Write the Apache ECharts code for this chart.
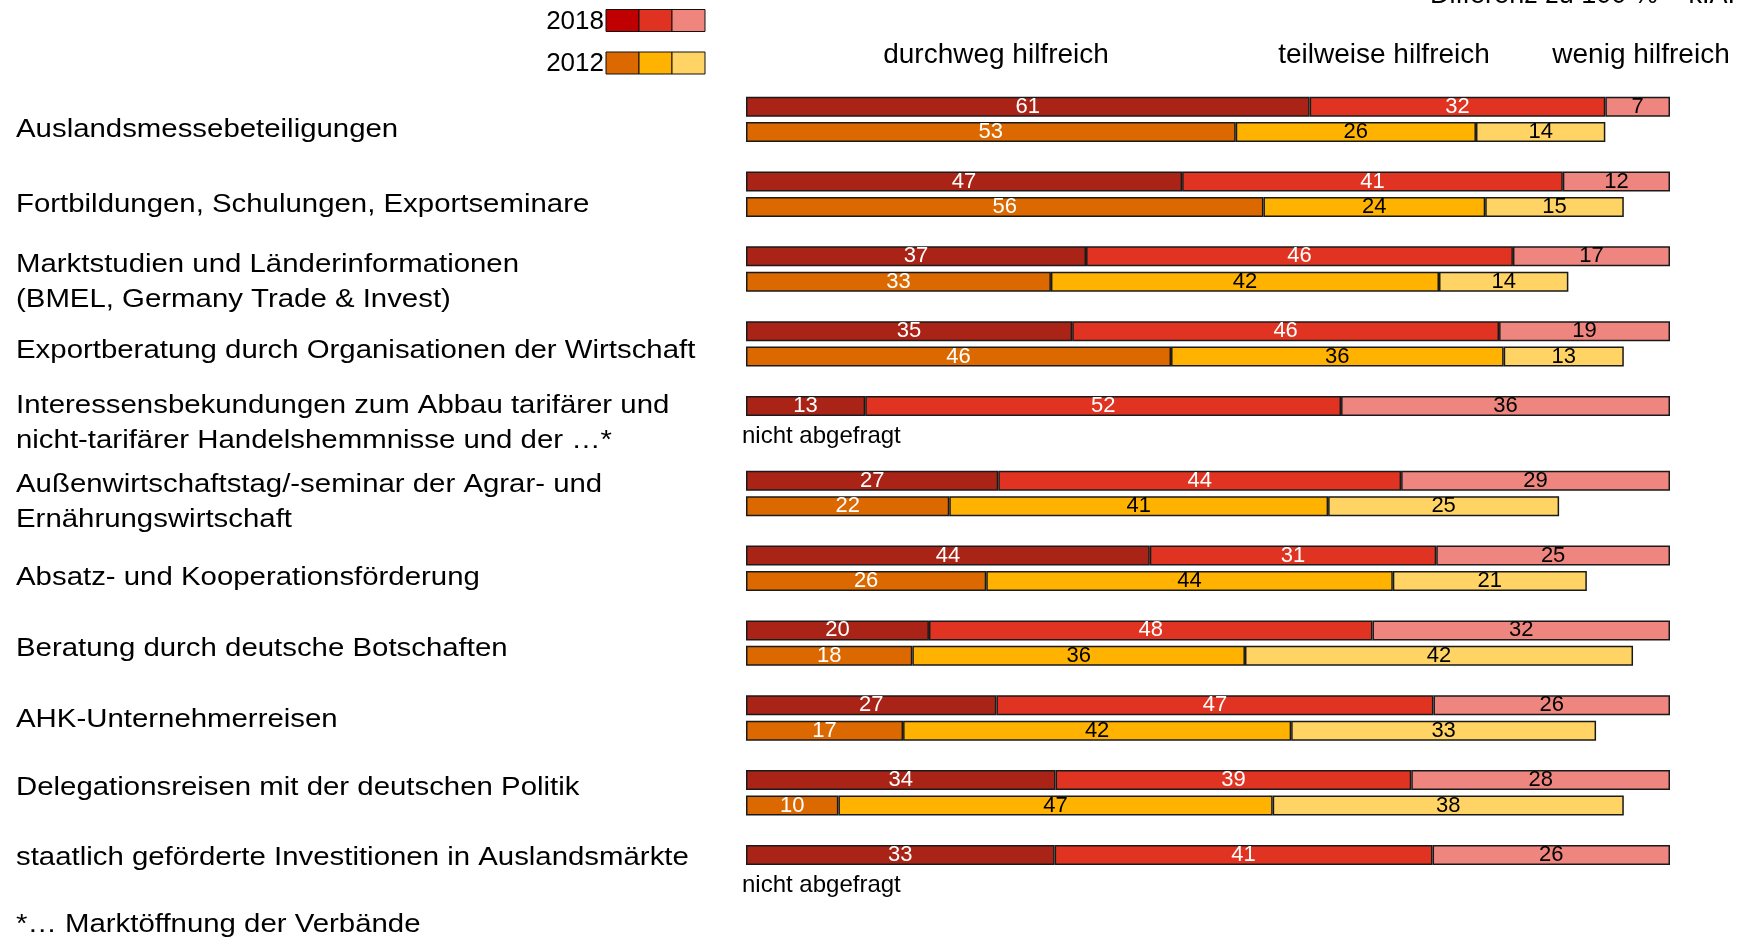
<!DOCTYPE html>
<html>
<head>
<meta charset="utf-8">
<script src="https://cdn.jsdelivr.net/npm/echarts@6/dist/echarts.min.js"></script>
<style>
    html, body { margin: 0; padding: 0; background: #fff; }
    #chart { width: 1750px; height: 939px; }
</style>
</head>
<body>
<div id="chart"></div>
<script>
// Kategorien (von oben nach unten)
const categories = [
    "Auslandsmessebeteiligungen",
    "Fortbildungen, Schulungen, Exportseminare",
    "Marktstudien und Länderinformationen\n(BMEL, Germany Trade & Invest)",
    "Exportberatung durch Organisationen der Wirtschaft",
    "Interessensbekundungen zum Abbau tarifärer und\nnicht-tarifärer Handelshemmnisse und der …*",
    "Außenwirtschaftstag/-seminar der Agrar- und\nErnährungswirtschaft",
    "Absatz- und Kooperationsförderung",
    "Beratung durch deutsche Botschaften",
    "AHK-Unternehmerreisen",
    "Delegationsreisen mit der deutschen Politik",
    "staatlich geförderte Investitionen in Auslandsmärkte"
];

// 2018: durchweg / teilweise / wenig hilfreich (%), Beschriftung gerundet
const full2018 = [61, 47.2, 36.8, 35.3, 12.9, 27.3, 43.7, 19.8, 27.1, 33.5, 33.4];
const part2018 = [32, 41.2, 46.2, 46.2, 51.5, 43.6, 31, 48, 47.3, 38.5, 40.9];
const low2018 = [7, 11.6, 17, 18.5, 35.6, 29.1, 25.3, 32.2, 25.6, 28, 25.7];

// 2012 (null = nicht abgefragt)
const full2012 = [53, 56, 33, 46, null, 22, 26, 18, 17, 10, null];
const part2012 = [26, 24, 42, 36, null, 41, 44, 36, 42, 47, null];
const low2012 = [14, 15, 14, 13, null, 25, 21, 42, 33, 38, null];

const headers = ["durchweg hilfreich", "teilweise hilfreich", "wenig hilfreich"];

// vertikale Verschiebung der Beschriftungen links (px)
const labelShift = [10.5, 10.5, 13.5, 6.5, 4.5, 8.5, 9.5, 5.5, 1.5, -4.5, -9.5];

const FONT = "Liberation Sans, Arial, sans-serif";
const colors2018 = ["#AA2317", "#E03321", "#EE857E"];
const colors2012 = ["#DC6900", "#FFB300", "#FFD465"];
const legend2018 = ["#C00000", "#E03220", "#F0857D"];

function segment(name, stack, data, color, labelColor) {
    return {
        name: name,
        type: "bar",
        stack: stack,
        data: data,
        barWidth: 20,
        barGap: "27%",
        silent: true,
        itemStyle: {
            color: color,
            borderColor: "#1a1a1a",
            borderWidth: 1.5
        },
        label: {
            show: true,
            position: "inside",
            color: labelColor,
            fontSize: 22,
            fontFamily: FONT,
            formatter: p => Math.round(p.value)
        }
    };
}

function legendRow(label, y, cols) {
    let items = [{
        type: "text",
        x: 604,
        y: y + 12,
        style: {
            text: label,
            fill: "#000",
            font: "26px " + FONT,
            align: "right",
            verticalAlign: "middle"
        }
    }];
    cols.forEach((c, i) => {
        items.push({
            type: "rect",
            shape: { x: 606 + i * 33, y: y, width: 33, height: 22 },
            style: { fill: c, stroke: "#111", lineWidth: 1 }
        });
    });
    return items;
}

function headerText(text, x) {
    return {
        type: "text",
        x: x,
        y: 55,
        style: { text: text, fill: "#000", font: "28px " + FONT, align: "center", verticalAlign: "middle" }
    };
}

// breit laufende Schrift der Beschriftungen links
function wideText(text, y) {
    return {
        type: "text",
        x: 16,
        y: y,
        scaleX: 1.13,
        style: {
            text: text,
            fill: "#000",
            font: "26px " + FONT,
            lineHeight: 35,
            align: "left",
            verticalAlign: "middle"
        }
    };
}

let chart = echarts.init(document.getElementById("chart"));
let option = {
    animation: false,
    grid: {
        left: 746,
        right: 80,
        top: 82,
        bottom: 34,
        outerBoundsMode: "none"
    },
    xAxis: {
        type: "value",
        min: 0,
        max: 100,
        show: false
    },
    yAxis: {
        type: "category",
        inverse: true,
        data: categories,
        axisLine: { show: false },
        axisTick: { show: false },
        splitLine: { show: false },
        axisLabel: { show: false }
    },
    series: [
        segment("2018 durchweg hilfreich", "s2018", full2018, colors2018[0], "#fff"),
        segment("2018 teilweise hilfreich", "s2018", part2018, colors2018[1], "#fff"),
        segment("2018 wenig hilfreich", "s2018", low2018, colors2018[2], "#000"),
        segment("2012 durchweg hilfreich", "s2012", full2012, colors2012[0], "#fff"),
        segment("2012 teilweise hilfreich", "s2012", part2012, colors2012[1], "#000"),
        segment("2012 wenig hilfreich", "s2012", low2012, colors2012[2], "#000"),
        {
            name: "nicht abgefragt",
            type: "bar",
            stack: "s2012",
            barWidth: 20,
            silent: true,
            data: full2012.map(v => v == null ? 0 : null),
            itemStyle: { color: "rgba(0,0,0,0)", borderWidth: 0 },
            label: {
                show: true,
                position: "right",
                distance: 0,
                offset: [-4, 5],
                color: "#000",
                fontSize: 24,
                fontFamily: FONT,
                formatter: "nicht abgefragt"
            }
        }
    ],
    graphic: [
        {
            type: "text",
            x: 1735,
            y: -4,
            style: {
                text: "Differenz zu 100 % = k.A.",
                fill: "#000",
                font: "27px " + FONT,
                align: "right",
                verticalAlign: "middle"
            }
        },
        headerText(headers[0], 996),
        headerText(headers[1], 1384),
        headerText(headers[2], 1641),
        wideText("*… Marktöffnung der Verbände", 925)
    ].concat(legendRow("2018", 9.5, legend2018), legendRow("2012", 52, colors2012))
};
chart.setOption(option);

// Kategorienbeschriftungen links, an der Kategorie-Achse ausgerichtet
let labels = categories.map((c, i) =>
    wideText(c, chart.convertToPixel({ yAxisIndex: 0 }, c) + labelShift[i]));
chart.setOption({ graphic: option.graphic.concat(labels) });
</script>
</body>
</html>
